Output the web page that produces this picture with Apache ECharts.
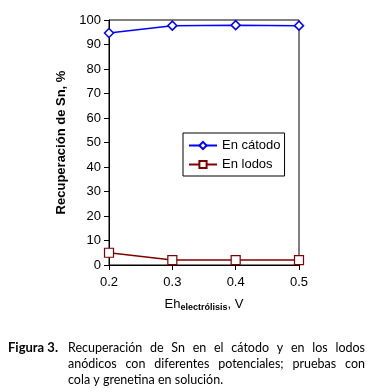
<!DOCTYPE html>
<html><head><meta charset="utf-8">
<script src="https://cdn.jsdelivr.net/npm/echarts@6/dist/echarts.min.js"></script>
<style>html,body{margin:0;padding:0;background:#fff}#c{width:371px;height:392px}</style>
</head><body><div id="c"></div>
<script>
const potentials = [0.2, 0.3, 0.4, 0.5];
const catodo = [94.7, 97.7, 97.9, 97.7];
const lodos = [5.0, 2.0, 2.0, 2.0];
const seriesNames = ['En cátodo', 'En lodos'];
const yTitle = 'Recuperación de Sn, %';
const captionLabel = 'Figura 3.';
const captionLines = [
  'Recuperación de Sn en el cátodo y en los lodos',
  'anódicos con diferentes potenciales; pruebas con',
  'cola y grenetina en solución.'
];

const chart = echarts.init(document.getElementById('c'));
const font = '"Liberation Sans", Arial, sans-serif';
const capFont = '12.5px Lato, "Open Sans", sans-serif';
const capBold = 'bold 13px Lato, "Open Sans", sans-serif';

// justified caption: words laid out between x0 and x1
const ctx = document.createElement('canvas').getContext('2d');
ctx.font = capFont;
const x0 = 68, x1 = 365, capTop = 341, capLH = 16;
const capGraphics = [];
captionLines.forEach((line, i) => {
  const words = line.split(' ');
  const last = i === captionLines.length - 1;
  const widths = words.map(w => ctx.measureText(w).width);
  const total = widths.reduce((a, b) => a + b, 0);
  const gap = last ? ctx.measureText(' ').width : (x1 - x0 - total) / (words.length - 1);
  let x = x0;
  words.forEach((w, j) => {
    capGraphics.push({ type: 'text', left: x, top: capTop + i * capLH, style: { text: w, font: capFont, fill: '#000' } });
    x += widths[j] + gap;
  });
});

chart.setOption({
  animation: false,
  grid: { left: 109, top: 20, width: 190, height: 245, show: true, borderColor: '#000', borderWidth: 1, backgroundColor: 'transparent' },
  xAxis: {
    type: 'value', min: 0.2, max: 0.5, interval: 0.1,
    axisLine: { show: true, lineStyle: { color: '#000', width: 1 } },
    axisTick: { show: true, inside: false, length: 5, lineStyle: { color: '#000' } },
    splitLine: { show: false },
    axisLabel: { color: '#000', fontFamily: font, fontSize: 13, margin: 11, formatter: v => v.toFixed(1) },
    name: '{a|Eh}{s|electrólisis}{a|, V}', nameLocation: 'middle', nameGap: 32,
    nameTextStyle: { rich: { a: { fontFamily: font, fontSize: 13, color: '#000' }, s: { fontFamily: font, fontSize: 9, fontWeight: 'bold', color: '#000', verticalAlign: 'bottom', padding: [6, 0, 0, 0] } } }
  },
  yAxis: {
    type: 'value', min: 0, max: 100, interval: 10,
    axisLine: { show: true, lineStyle: { color: '#000', width: 1 } },
    axisTick: { show: true, inside: false, length: 5, lineStyle: { color: '#000' } },
    splitLine: { show: false },
    axisLabel: { color: '#000', fontFamily: font, fontSize: 13, margin: 8 },
    name: yTitle, nameLocation: 'middle', nameGap: 40,
    nameTextStyle: { fontFamily: font, fontSize: 13, fontWeight: 'bold', color: '#000' }
  },
  legend: {
    left: 183, top: 133, orient: 'vertical',
    backgroundColor: '#fff', borderColor: '#000', borderWidth: 1, padding: [6, 4, 5, 5],
    itemGap: 6, itemWidth: 28, itemHeight: 9,
    textStyle: { fontFamily: font, fontSize: 13, color: '#000' },
    data: seriesNames
  },
  series: [
    { name: seriesNames[0], type: 'line', data: potentials.map((x, i) => [x, catodo[i]]),
      symbol: 'diamond', symbolSize: 9, showSymbol: true,
      lineStyle: { color: '#0000ff', width: 1.5 },
      itemStyle: { color: '#fff', borderColor: '#0000ff', borderWidth: 1.5 } },
    { name: seriesNames[1], type: 'line', data: potentials.map((x, i) => [x, lodos[i]]),
      symbol: 'rect', symbolSize: 9, showSymbol: true,
      lineStyle: { color: '#800000', width: 1.5 },
      itemStyle: { color: '#fff', borderColor: '#800000', borderWidth: 1.2 } }
  ],
  graphic: [
    { type: 'text', left: 8, top: capTop, style: { text: captionLabel, font: capBold, fill: '#000' } },
    ...capGraphics
  ]
});
</script></body></html>
